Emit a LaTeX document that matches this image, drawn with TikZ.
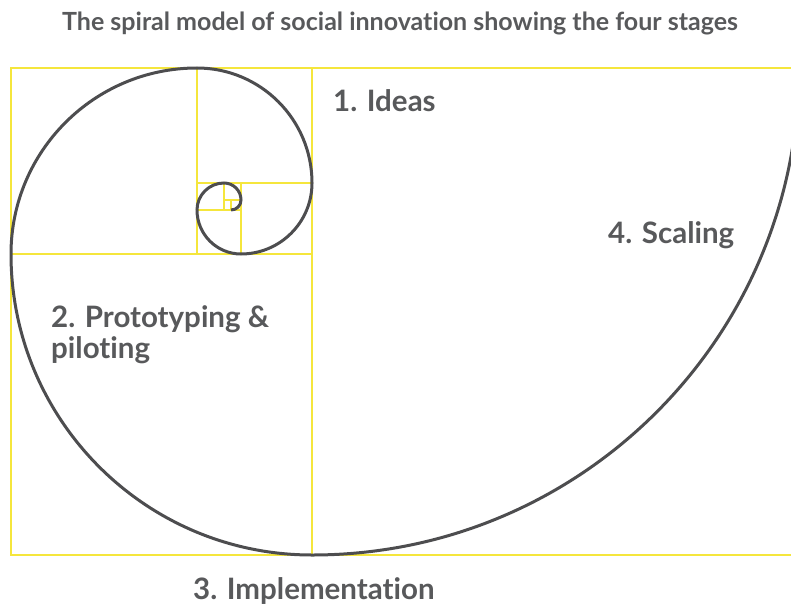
\documentclass[tikz,border=0pt]{standalone}
\usepackage{fontspec}
\setmainfont{Lato}[Ligatures={NoCommon}]
\definecolor{gold}{HTML}{F5E63C}
\definecolor{ink}{HTML}{4D4D4F}
\definecolor{txt}{HTML}{58595B}
\begin{document}
\begin{tikzpicture}[x=1pt,y=-1pt,
  gridline/.style={draw=gold,line width=1.5pt},
  spiralline/.style={draw=ink,line width=3pt},
  lbl/.style={text=txt,font=\fontsize{29.5}{31}\selectfont\bfseries,anchor=base west,inner sep=0pt},
  ttl/.style={text=txt,font=\fontsize{25}{28}\selectfont\bfseries,anchor=base,inner sep=0pt}]
\useasboundingbox (0,0) rectangle (791,604);
\begin{scope}
\clip (0,0) rectangle (791,604);
\draw[gridline] (11,68) rectangle (799,555);
\draw[gridline] (312,68) -- (312,555);
\draw[gridline] (11,254) -- (312,254);
\draw[gridline] (197,68) -- (197,254);
\draw[gridline] (197,183) -- (312,183);
\draw[gridline] (241,183) -- (241,254);
\draw[gridline] (197,210) -- (241,210);
\draw[gridline] (224,183) -- (224,210);
\draw[gridline] (224,200) -- (241,200);
\draw[gridline] (231,200) -- (231,210);
\draw[spiralline] (799,68) arc[start angle=0,end angle=90,radius=487]
  arc[start angle=90,end angle=180,radius=301]
  arc[start angle=180,end angle=270,radius=186]
  arc[start angle=270,end angle=360,radius=115]
  arc[start angle=0,end angle=90,radius=71]
  arc[start angle=90,end angle=180,radius=44]
  arc[start angle=180,end angle=270,radius=27]
  arc[start angle=270,end angle=360,radius=17]
  arc[start angle=0,end angle=90,radius=10];
\end{scope}
\node[ttl] (title) at (400,31) {The spiral model of social innovation showing the four stages};
\node[lbl] (ideas) at (333,112) {1. Ideas};
\node[lbl] (proto) at (51,327) {2. Prototyping \&};
\node[lbl] (pilot) at (51,358) {piloting};
\node[lbl] (impl) at (193,599) {3. Implementation};
\node[lbl] (scal) at (608,243) {4. Scaling};
\end{tikzpicture}
\end{document}
